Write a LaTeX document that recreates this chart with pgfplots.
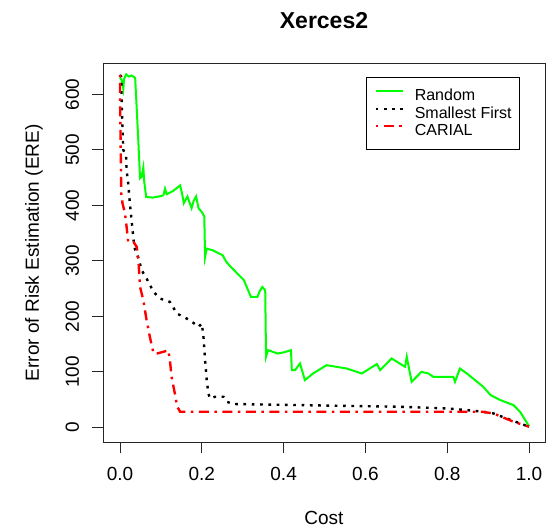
\documentclass[border=0pt]{standalone}
\usepackage{pgfplots}
\pgfplotsset{compat=1.18}
\usetikzlibrary{calc}
\usepackage{fontspec}
\setmainfont{Liberation Sans}
\definecolor{rgreen}{RGB}{0,255,0}
\definecolor{rred}{RGB}{255,0,0}
\begin{document}
\begin{tikzpicture}
\begin{axis}[
  name=ax, at={(0,0)}, anchor=south west,
  scale only axis, width=442pt, height=379pt,
  xmin=-0.0416, xmax=1.039, ymin=-27, ymax=656,
  axis line style={line width=0.8pt, black!85},
  tick style={line width=0.8pt, black!85},
  tick align=outside, major tick length=11pt,
  xtick={0,0.2,0.4,0.6,0.8,1.0},
  xticklabels={0.0,0.2,0.4,0.6,0.8,1.0},
  ytick={0,100,200,300,400,500,600},
  xtick pos=bottom, ytick pos=left,
  xticklabel shift=13pt, yticklabel shift=13pt,
  /pgf/number format/assume math mode=true,
  xticklabel style={font=\fontsize{19}{21}\selectfont, text height=13.6pt, text depth=0pt, inner sep=0pt},
  yticklabel style={font=\fontsize{19}{21}\selectfont, rotate=90, anchor=south, text height=13.6pt, text depth=0pt, inner sep=0pt},
  legend style={at={(0.595,0.963)}, anchor=north west, draw=black, line width=0.8pt,
    font=\fontsize{16}{17}\selectfont, inner xsep=8pt, inner ysep=11pt,
    nodes={inner sep=0pt, text height=12pt, text depth=3pt},
    row sep=2.5pt, /tikz/every odd column/.append style={column sep=11pt}},
  legend cell align=left,
  legend image code/.code={\draw[#1] (0pt,5pt) -- (27pt,5pt);},
]
\addplot[rgreen, line width=2pt] coordinates {
(0.000,630) (0.004,626) (0.008,610) (0.010,628) (0.015,636) (0.022,632) (0.028,634) (0.037,630)
(0.041,572) (0.045,512) (0.049,449) (0.053,452) (0.057,468) (0.059,444) (0.064,415) (0.080,414)
(0.095,416) (0.106,418) (0.110,430) (0.114,420) (0.130,426) (0.147,436) (0.152,420) (0.156,404)
(0.165,416) (0.170,405) (0.175,395) (0.180,408) (0.186,416) (0.192,395) (0.200,388) (0.206,380)
(0.208,307) (0.212,322) (0.227,319) (0.240,314) (0.251,310) (0.260,298) (0.271,289) (0.287,277)
(0.303,265) (0.320,235) (0.336,235) (0.342,246) (0.348,253) (0.355,247) (0.357,127) (0.362,139)
(0.385,133) (0.400,135) (0.418,139) (0.420,103) (0.428,103) (0.440,115) (0.452,85) (0.472,97)
(0.505,112) (0.529,109) (0.554,106) (0.591,97) (0.628,114) (0.636,103) (0.664,124) (0.697,109)
(0.701,127) (0.713,82) (0.737,100) (0.754,97) (0.766,91) (0.815,91) (0.819,82) (0.831,106)
(0.848,97) (0.888,73) (0.906,58) (0.930,49) (0.962,40) (0.978,28) (1.000,2)
};
\addlegendentry{Random}
\addplot[black, line width=2.4pt, dash pattern=on 2.7pt off 5.6pt] coordinates {
(0.000,635) (0.003,632) (0.004,590) (0.006,542) (0.008,500) (0.015,488) (0.016,464) (0.020,440)
(0.024,404) (0.029,368) (0.033,338) (0.037,319) (0.045,305) (0.053,283) (0.065,268) (0.082,244)
(0.098,232) (0.122,226) (0.139,205) (0.171,193) (0.192,181) (0.200,187) (0.204,163) (0.208,121)
(0.212,85) (0.216,61) (0.220,52) (0.232,55) (0.253,55) (0.261,46) (0.277,42) (0.440,40)
(0.685,37) (0.800,34) (0.848,31) (0.888,28) (0.913,25) (0.945,16) (1.000,1)
};
\addlegendentry{Smallest First}
\addplot[rred, line width=2.4pt, dash pattern=on 2.5pt off 5.5pt on 10pt off 5.5pt] coordinates {
(0.000,635) (0.000,602) (0.001,542) (0.002,482) (0.003,422) (0.006,404) (0.012,386) (0.016,362)
(0.020,334) (0.033,334) (0.041,325) (0.045,301) (0.049,253) (0.053,241) (0.057,229) (0.065,193)
(0.073,163) (0.082,133) (0.090,133) (0.106,136) (0.118,139) (0.122,121) (0.126,91) (0.134,61)
(0.140,37) (0.147,28) (0.500,28) (0.885,28) (0.913,25) (0.962,10) (1.000,1)
};
\addlegendentry{CARIAL}
\end{axis}
\node[font=\bfseries\fontsize{23}{26}\selectfont, anchor=base] at ($(ax.north)+(0,35pt)$) {Xerces2};
\node[font=\fontsize{19}{21}\selectfont, anchor=base] at ($(ax.south)+(0,-82.5pt)$) {Cost};
\node[font=\fontsize{19}{21}\selectfont, anchor=base, rotate=90] at ($(ax.west)+(-64.2pt,0)$) {Error of Risk Estimation (ERE)};
\path ($(ax.south west)+(-103pt,-88.7pt)$) rectangle ($(ax.north east)+(4pt,63.3pt)$);
\end{tikzpicture}
\end{document}
